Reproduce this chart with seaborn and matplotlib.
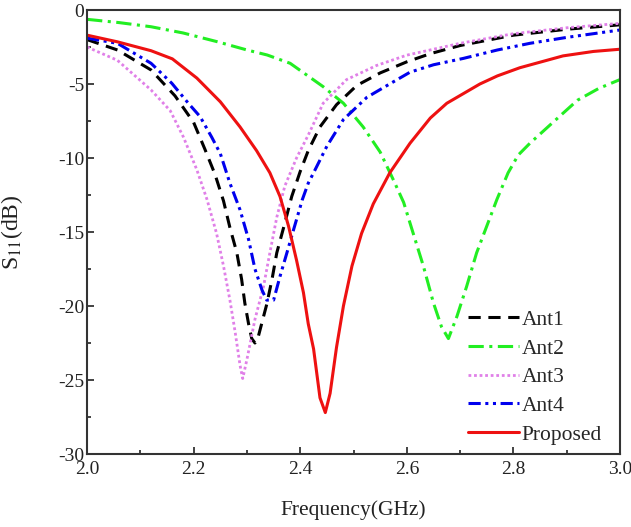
import numpy as np
import pandas as pd
import matplotlib
matplotlib.use('agg')
import matplotlib.pyplot as plt
import seaborn as sns
from matplotlib.ticker import MultipleLocator, FormatStrFormatter

# values (frequency in GHz, S11 in dB)
ant1_f = [2.0, 2.057, 2.12, 2.165, 2.2, 2.221, 2.24, 2.256, 2.268, 2.281, 2.29, 2.296, 2.303, 2.309, 2.315,
          2.321, 2.337, 2.347, 2.356, 2.371, 2.384, 2.40, 2.415, 2.437, 2.468, 2.506, 2.55, 2.6, 2.644, 2.7,
          2.8, 2.9, 3.0]
ant1_s = [-2.0, -2.7, -4.05, -5.8, -7.6, -9.4, -11.1, -12.9, -14.7, -16.4, -18.2, -19.8, -21.2, -22.2, -22.5,
          -22.1, -19.9, -18.2, -16.4, -14.4, -12.6, -10.9, -9.5, -7.9, -6.4, -5.1, -4.25, -3.5, -2.95, -2.4,
          -1.7, -1.3, -1.0]

ant2_f = [2.0, 2.06, 2.12, 2.18, 2.244, 2.30, 2.338, 2.381, 2.443, 2.481, 2.518, 2.55, 2.575, 2.594, 2.612,
          2.631, 2.65, 2.665, 2.678, 2.694, 2.712, 2.731, 2.75, 2.769, 2.79, 2.809, 2.831, 2.88, 2.92, 2.96, 3.0]
ant2_s = [-0.63, -0.85, -1.13, -1.55, -2.14, -2.7, -3.04, -3.6, -5.18, -6.3, -7.9, -9.6, -11.5, -13.0, -15.1,
          -17.3, -19.8, -21.4, -22.2, -20.7, -18.7, -16.4, -14.6, -12.8, -11.0, -9.8, -9.0, -7.4, -6.1, -5.3, -4.7]

ant3_f = [2.0, 2.057, 2.12, 2.156, 2.181, 2.206, 2.225, 2.243, 2.256, 2.268, 2.278, 2.287, 2.292, 2.30, 2.315,
          2.331, 2.343, 2.356, 2.371, 2.393, 2.415, 2.443, 2.487, 2.543, 2.6, 2.7, 2.8, 2.9, 3.0]
ant3_s = [-2.5, -3.4, -5.4, -6.8, -8.6, -10.8, -12.8, -15.1, -17.3, -19.6, -21.8, -24.0, -24.9, -23.6, -20.9,
          -18.7, -16.4, -14.0, -11.9, -10.0, -8.45, -6.3, -4.7, -3.75, -3.05, -2.25, -1.6, -1.2, -0.9]

ant4_f = [2.0, 2.057, 2.12, 2.159, 2.19, 2.212, 2.234, 2.25, 2.268, 2.287, 2.303, 2.315, 2.328, 2.337, 2.35,
          2.362, 2.375, 2.387, 2.404, 2.415, 2.425, 2.45, 2.481, 2.525, 2.57, 2.606, 2.65, 2.706, 2.77, 2.831,
          2.9, 3.0]
ant4_s = [-1.9, -2.25, -3.6, -4.95, -6.3, -7.2, -8.6, -9.7, -11.7, -13.5, -15.5, -17.5, -18.9, -19.6, -19.6,
          -18.0, -16.4, -14.9, -12.8, -11.7, -11.0, -9.2, -7.4, -5.9, -4.95, -4.2, -3.7, -3.27, -2.7, -2.25,
          -1.85, -1.35]

prop_f = [2.0, 2.057, 2.12, 2.16, 2.206, 2.25, 2.287, 2.318, 2.343, 2.362, 2.378, 2.393, 2.406, 2.415, 2.425,
          2.437, 2.447, 2.456, 2.468, 2.481, 2.497, 2.515, 2.537, 2.568, 2.606, 2.644, 2.675, 2.737, 2.77, 2.812,
          2.893, 2.95, 3.0]
prop_s = [-1.7, -2.15, -2.75, -3.3, -4.6, -6.2, -7.9, -9.5, -11.0, -12.6, -14.6, -16.9, -19.1, -21.2, -22.9,
          -26.2, -27.2, -25.9, -22.8, -20.0, -17.3, -15.1, -13.1, -11.0, -9.0, -7.3, -6.3, -5.0, -4.45, -3.9,
          -3.1, -2.8, -2.65]

labels = ['Ant1', 'Ant2', 'Ant3', 'Ant4', 'Proposed']

sns.set_style('ticks')
plt.rcParams['font.family'] = ['Liberation Serif', 'DejaVu Serif']
plt.rcParams['mathtext.fontset'] = 'stix'
plt.rcParams['axes.unicode_minus'] = False

fig = plt.figure(figsize=(6.31, 5.27), dpi=100)
ax = fig.add_axes([0.138, 0.1385, 0.8446, 0.8425])

series = [
    (ant1_f, ant1_s, '#000000', (4, 2.5), 2.2),
    (ant2_f, ant2_s, '#22ee22', (5, 1.8, 1, 1.8), 2.2),
    (ant3_f, ant3_s, '#e080e8', (1, 1), 2.0),
    (ant4_f, ant4_s, '#0000ee', (4, 1.5, 1, 1.5, 1, 1.5), 2.2),
    (prop_f, prop_s, '#ee1111', None, 2.2),
]

for (f, s, c, d, lw), lab in zip(series, labels):
    df = pd.DataFrame({'f': f, 's': s})
    sns.lineplot(data=df, x='f', y='s', ax=ax, color=c, lw=lw, label=lab, sort=False)
    if d is not None:
        ax.lines[-1].set_dashes(d)

ax.set_xlim(2.0, 3.0)
ax.set_ylim(-30, 0)
ax.xaxis.set_major_locator(MultipleLocator(0.2))
ax.xaxis.set_minor_locator(MultipleLocator(0.1))
ax.yaxis.set_major_locator(MultipleLocator(5))
ax.yaxis.set_minor_locator(MultipleLocator(2.5))
ax.xaxis.set_major_formatter(FormatStrFormatter('%.1f'))
ax.tick_params(which='both', direction='in', top=False, right=False, labelsize=14, colors='#222222')
ax.tick_params(which='major', length=5, width=1.2)
ax.tick_params(which='minor', length=3, width=1.2)
ax.tick_params(axis='y', pad=2)
ax.tick_params(axis='x', pad=5)
for sp in ax.spines.values():
    sp.set_linewidth(1.5)
    sp.set_color('#333333')

ax.set_xlabel('Frequency(GHz)', fontsize=15.5, color='#222222')
ax.set_ylabel('S$_{11}$(dB)', fontsize=17, color='#222222')
ax.xaxis.set_label_coords(0.5, -0.104)
ax.yaxis.set_label_coords(-0.116, 0.5)

ax.legend(loc='lower right', frameon=False, fontsize=15.5, handlelength=2.4, handletextpad=0.1,
          labelspacing=0.4, borderaxespad=0.2, bbox_to_anchor=(0.99, -0.008))

plt.savefig('out.png', dpi=100)
plt.close()
